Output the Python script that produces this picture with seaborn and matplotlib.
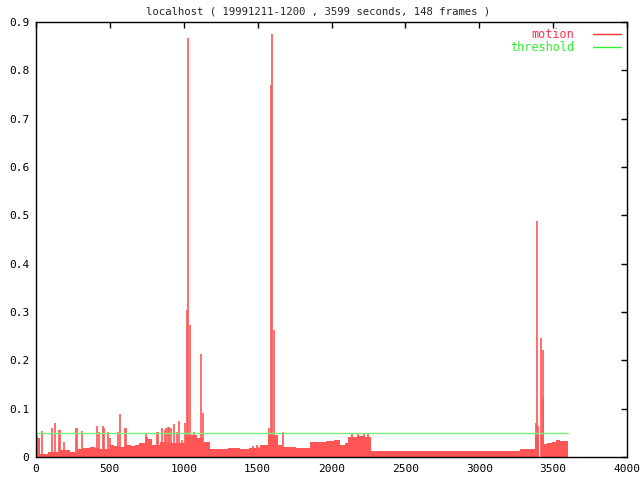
import matplotlib
matplotlib.use('Agg')
import matplotlib.pyplot as plt
import seaborn as sns
import pandas as pd

TITLE = 'localhost ( 19991211-1200 , 3599 seconds, 148 frames )'

# baseline motion level (step, starts at each knot)
base_x = [0, 10, 27, 81, 162, 230, 277, 320, 365, 400, 433, 500, 530, 555, 600,
          640, 670, 700, 738, 760, 785, 840, 880, 940, 1008, 1042, 1090, 1130,
          1178, 1300, 1381, 1440, 1516, 1570, 1638, 1665, 1760,
          1855, 1900, 1960, 2020, 2058, 2091, 2110, 2170, 2230, 2270, 2450,
          2600, 2900, 3276, 3377, 3405, 3416, 3431, 3460, 3490, 3520, 3546, 3599]
base_y = [0.029, 0.039, 0.007, 0.010, 0.014, 0.010, 0.017, 0.019, 0.021, 0.019,
          0.017, 0.025, 0.022, 0.021, 0.025, 0.022, 0.025, 0.030, 0.042, 0.038,
          0.025, 0.032, 0.030, 0.029, 0.046, 0.045, 0.040, 0.032, 0.0166, 0.018,
          0.017, 0.019, 0.025, 0.046, 0.025, 0.021, 0.019,
          0.031, 0.032, 0.033, 0.035, 0.025, 0.030, 0.042, 0.044, 0.042, 0.0124,
          0.013, 0.0124, 0.013, 0.017, 0.045, 0.0, 0.045, 0.027, 0.030, 0.032,
          0.035, 0.034, 0.034]

# individual frames that stick out of the baseline
spike_x = [9, 43, 110, 131, 156, 163, 190, 271, 280, 311, 415, 425, 451, 460,
           484, 500, 555, 568, 600, 607, 745, 817, 824, 851, 873, 880, 896, 903,
           915, 936, 956, 970, 990, 1008, 1022, 1030, 1040, 1071, 1085, 1117,
           1132, 1470, 1493, 1502, 1579, 1590, 1599, 1611, 1630, 1670, 2140,
           2180, 2220, 2250, 3385, 3393, 3400, 3420, 3429, 3432]
spike_y = [0.046, 0.054, 0.059, 0.070, 0.056, 0.056, 0.032, 0.059, 0.059, 0.054,
           0.064, 0.052, 0.065, 0.059, 0.052, 0.039, 0.052, 0.090, 0.059, 0.059,
           0.049, 0.052, 0.052, 0.059, 0.056, 0.059, 0.063, 0.063, 0.059, 0.068,
           0.052, 0.074, 0.035, 0.070, 0.304, 0.866, 0.273, 0.052, 0.042, 0.213,
           0.091, 0.022, 0.025, 0.021, 0.060, 0.770, 0.875, 0.263, 0.046, 0.052,
           0.049, 0.048, 0.049, 0.048, 0.070, 0.489, 0.065, 0.246, 0.221, 0.122]

thr_x = [0, 3599]
thr_y = [0.05, 0.05]

x_ticks = [0, 500, 1000, 1500, 2000, 2500, 3000, 3500, 4000]
y_ticks = [0, 0.1, 0.2, 0.3, 0.4, 0.5, 0.6, 0.7, 0.8, 0.9]
y_labels = ['0', '0.1', '0.2', '0.3', '0.4', '0.5', '0.6', '0.7', '0.8', '0.9']

RED = '#ff5555'
GREEN = '#77ee77'

sns.set_style('white')
plt.rcParams['font.family'] = ['DejaVu Sans Mono']
plt.rcParams['font.size'] = 8

fig = plt.figure(figsize=(6.4, 4.8), dpi=100)
ax = fig.add_axes([36 / 640, 23 / 480, 591 / 640, 435 / 480])

ax.fill_between(base_x, base_y, step='post', color=RED, lw=0)
ax.vlines(spike_x, 0, spike_y, color=RED, lw=1.2)

thr = pd.DataFrame({'x': thr_x, 'y': thr_y})
sns.lineplot(data=thr, x='x', y='y', color=GREEN, lw=1, ax=ax)

# legend samples
ax.plot([], [], color='#ff3030', lw=1, label='motion')
ax.plot([], [], color='#33ee33', lw=1, label='threshold')
leg = ax.legend(loc='upper right', frameon=False, markerfirst=False,
                handlelength=2.4, handletextpad=1.6, borderaxespad=0.1,
                labelspacing=0.05, fontsize=8.5)
for txt, col in zip(leg.get_texts(), ['#ff3050', '#33ee33']):
    txt.set_color(col)

ax.set_xlim(0, 4000)
ax.set_ylim(0, 0.9)
ax.set_xticks(x_ticks)
ax.set_yticks(y_ticks)
ax.set_yticklabels(y_labels)
ax.set_xlabel('')
ax.set_ylabel('')
ax.tick_params(direction='in', length=4, width=1, top=True, right=True,
               labelsize=8, colors='black', pad=5)
for sp in ax.spines.values():
    sp.set_visible(True)
    sp.set_color('black')
    sp.set_linewidth(1)

fig.text(318 / 640, 1 - 11 / 480, TITLE, ha='center', va='center', fontsize=7.7)

fig.savefig('out.png', dpi=100)
